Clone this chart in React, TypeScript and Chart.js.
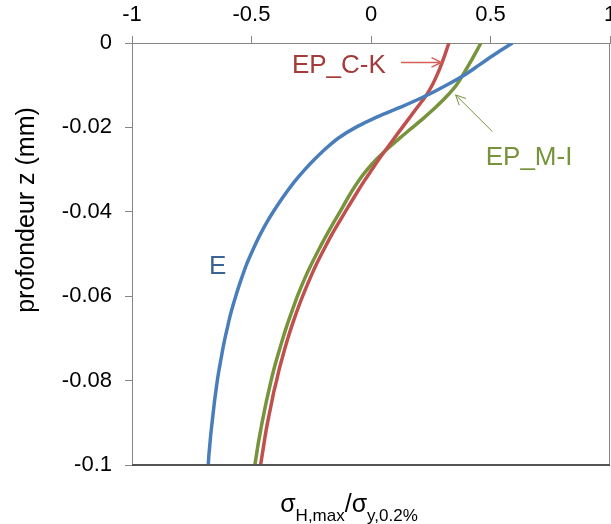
import React, { useEffect, useRef } from "react";
import { Chart, registerables } from "chart.js";

Chart.register(...registerables);

// depth z (mm)
const depthMm = [
  0, -0.0025, -0.005, -0.0075, -0.01, -0.0125, -0.015, -0.0175, -0.02, -0.0225,
  -0.025, -0.0275, -0.03, -0.0325, -0.035, -0.0375, -0.04, -0.0425, -0.045, -0.0475,
  -0.05, -0.0525, -0.055, -0.0575, -0.06, -0.0625, -0.065, -0.0675, -0.07, -0.0725,
  -0.075, -0.0775, -0.08, -0.0825, -0.085, -0.0875, -0.09, -0.0925, -0.095, -0.0975, -0.1,
];
// sigma_H,max / sigma_y,0.2%
const sigmaE = [
  0.592, 0.523, 0.458, 0.393, 0.315, 0.23, 0.132, 0.026, -0.064, -0.136,
  -0.189, -0.235, -0.277, -0.315, -0.349, -0.38, -0.409, -0.436, -0.46, -0.482,
  -0.502, -0.521, -0.537, -0.552, -0.566, -0.579, -0.591, -0.601, -0.611, -0.62,
  -0.628, -0.636, -0.643, -0.649, -0.655, -0.66, -0.665, -0.67, -0.674, -0.678, -0.681,
];
const sigmaEPCK = [
  0.326, 0.311, 0.295, 0.277, 0.256, 0.23, 0.197, 0.164, 0.131, 0.098,
  0.066, 0.034, 0.004, -0.026, -0.054, -0.081, -0.108, -0.134, -0.16, -0.184,
  -0.207, -0.229, -0.249, -0.268, -0.286, -0.303, -0.319, -0.334, -0.348, -0.361,
  -0.373, -0.385, -0.395, -0.406, -0.415, -0.424, -0.433, -0.441, -0.448, -0.455, -0.462,
];
const sigmaEPMI = [
  0.46, 0.436, 0.411, 0.385, 0.357, 0.319, 0.275, 0.226, 0.174, 0.121,
  0.07, 0.024, -0.016, -0.05, -0.079, -0.105, -0.13, -0.156, -0.181, -0.205,
  -0.228, -0.25, -0.271, -0.29, -0.308, -0.324, -0.34, -0.355, -0.369, -0.382,
  -0.395, -0.407, -0.418, -0.428, -0.438, -0.447, -0.456, -0.464, -0.472, -0.479, -0.486,
];
const seriesNames = ["E", "EP_C-K", "EP_M-I"];
const xTicks = [-1, -0.5, 0, 0.5, 1];
const yTicks = [0, -0.02, -0.04, -0.06, -0.08, -0.1];

const FONT = '"Liberation Sans", Arial, sans-serif';

export default function App() {
  const ref = useRef<HTMLCanvasElement>(null);

  useEffect(() => {
    if (!ref.current) return;
    const toPts = (xs: number[]) => xs.map((x, i) => ({ x, y: depthMm[i] }));

    const arrow = (
      ctx: CanvasRenderingContext2D,
      x0: number, y0: number, x1: number, y1: number,
      color: string, width: number, head: number
    ) => {
      const ang = Math.atan2(y1 - y0, x1 - x0);
      ctx.strokeStyle = color;
      ctx.lineWidth = width;
      ctx.beginPath();
      ctx.moveTo(x0, y0);
      ctx.lineTo(x1, y1);
      ctx.moveTo(x1 - head * Math.cos(ang - 0.45), y1 - head * Math.sin(ang - 0.45));
      ctx.lineTo(x1, y1);
      ctx.lineTo(x1 - head * Math.cos(ang + 0.45), y1 - head * Math.sin(ang + 0.45));
      ctx.stroke();
    };

    const overlay = {
      id: "overlay",
      afterDatasetsDraw(chart: any) {
        const { ctx, chartArea: a, scales } = chart;
        const xs = scales.x;
        const ys = scales.y;
        const px = (v: number) => xs.getPixelForValue(v);
        const py = (v: number) => ys.getPixelForValue(v);
        ctx.save();
        // right border
        ctx.strokeStyle = "#868686";
        ctx.lineWidth = 1;
        ctx.beginPath();
        ctx.moveTo(Math.round(a.right) - 0.5, a.top);
        ctx.lineTo(Math.round(a.right) - 0.5, a.bottom);
        ctx.stroke();
        // bottom line
        ctx.strokeStyle = "#555555";
        ctx.lineWidth = 2;
        ctx.beginPath();
        ctx.moveTo(a.left, Math.round(a.bottom));
        ctx.lineTo(a.right, Math.round(a.bottom));
        ctx.stroke();

        // annotations
        ctx.font = `26px ${FONT}`;
        ctx.textAlign = "left";
        ctx.textBaseline = "alphabetic";
        ctx.fillStyle = "#A23B39";
        ctx.fillText(seriesNames[1], px(-0.331), py(-0.00704));
        arrow(ctx, px(0.1255), py(-0.0046), px(0.2946), py(-0.0046), "#D65F5C", 1.5, 11);
        ctx.fillStyle = "#77933C";
        ctx.fillText(seriesNames[2], px(0.48), py(-0.0289));
        arrow(ctx, px(0.508), py(-0.021), px(0.354), py(-0.0123), "#77933C", 1, 11);
        ctx.fillStyle = "#3A6396";
        ctx.fillText(seriesNames[0], px(-0.678), py(-0.0547));

        // y axis title
        ctx.save();
        ctx.translate(27, 210);
        ctx.rotate(-Math.PI / 2);
        ctx.textAlign = "center";
        ctx.textBaseline = "middle";
        ctx.fillStyle = "#000";
        ctx.font = `25px ${FONT}`;
        ctx.fillText("profondeur z (mm)", 0, 0);
        ctx.restore();

        // x axis title with subscripts
        const segs = [
          { t: "σ", s: 25, dy: 0 },
          { t: "H,max", s: 17, dy: 9 },
          { t: "/σ", s: 25, dy: 0 },
          { t: "y,0.2%", s: 17, dy: 9 },
        ];
        let total = 0;
        const widths = segs.map((g) => {
          ctx.font = `${g.s}px ${FONT}`;
          const w = ctx.measureText(g.t).width;
          total += w;
          return w;
        });
        let cx = 349 - total / 2;
        ctx.fillStyle = "#000";
        ctx.textAlign = "left";
        segs.forEach((g, i) => {
          ctx.font = `${g.s}px ${FONT}`;
          ctx.fillText(g.t, cx, 512 + g.dy);
          cx += widths[i];
        });
        ctx.restore();
      },
    };

    const chart = new Chart(ref.current, {
      type: "scatter",
      data: {
        datasets: [
          { label: seriesNames[0], data: toPts(sigmaE), borderColor: "#4A7EBB" },
          { label: seriesNames[1], data: toPts(sigmaEPCK), borderColor: "#C0504D" },
          { label: seriesNames[2], data: toPts(sigmaEPMI), borderColor: "#77933C" },
        ].map((d) => ({
          ...d,
          showLine: true,
          borderWidth: 3.5,
          pointRadius: 0,
          tension: 0.3,
          fill: false,
        })),
      },
      options: {
        animation: false,
        responsive: false,
        layout: { padding: { left: 0, top: 0, right: 1, bottom: 59 } },
        plugins: { legend: { display: false }, tooltip: { enabled: false } },
        scales: {
          x: {
            type: "linear",
            position: "top",
            min: -1,
            max: 1,
            afterBuildTicks: (s: any) => {
              s.ticks = xTicks.map((v) => ({ value: v }));
            },
            ticks: {
              font: { family: FONT, size: 22 },
              color: "#000",
              padding: 8,
              maxRotation: 0,
              autoSkip: false,
              callback: (v: any) => String(v),
            },
            grid: { drawOnChartArea: false, drawTicks: true, tickLength: 7, color: "#868686" },
            border: { color: "#868686" },
            afterFit: (s: any) => {
              s.height = 43;
              s.paddingLeft = 0;
              s.paddingRight = 0;
            },
          },
          y: {
            type: "linear",
            position: "left",
            min: -0.1,
            max: 0,
            afterBuildTicks: (s: any) => {
              s.ticks = yTicks.map((v) => ({ value: v }));
            },
            ticks: {
              font: { family: FONT, size: 22 },
              color: "#000",
              padding: 13,
              autoSkip: false,
              callback: (v: any) => String(Number(Number(v).toFixed(2))),
            },
            grid: { drawOnChartArea: false, drawTicks: true, tickLength: 7, color: "#868686" },
            border: { color: "#868686" },
            afterFit: (s: any) => {
              s.width = 132;
              s.paddingTop = 0;
              s.paddingBottom = 0;
            },
          },
        },
      },
      plugins: [overlay],
    } as any);

    return () => chart.destroy();
  }, []);

  return (
    <div style={{ position: "absolute", left: 0, top: 0, width: 611, height: 524, background: "#fff" }}>
      <canvas ref={ref} width={611} height={524} style={{ display: "block" }} />
    </div>
  );
}
